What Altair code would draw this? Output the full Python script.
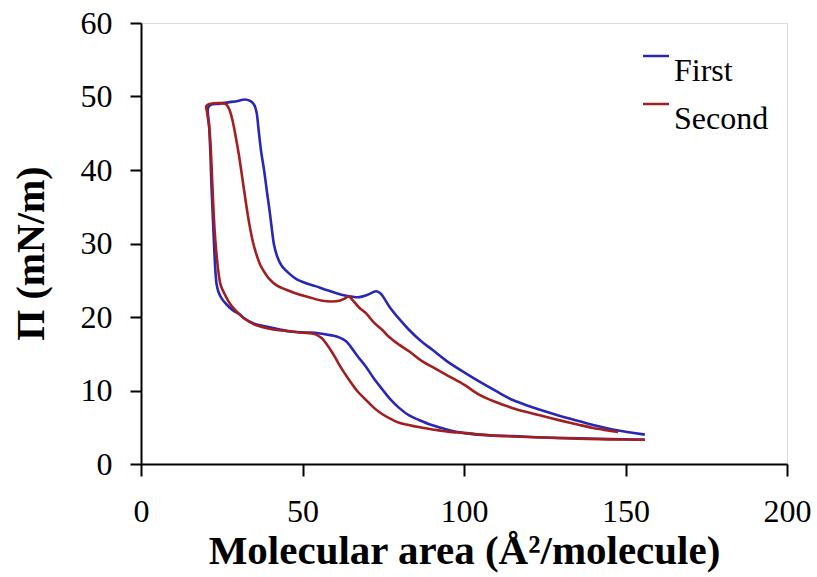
import altair as alt
import pandas as pd

# First cycle (blue): traced as one closed loop, starting at the lower-right end
first_x = [156, 145, 135, 125, 115, 108, 100, 95.5, 90, 86, 83, 80, 77, 74.8, 72, 69.7, 67, 65,
           63.5, 61.5, 59, 55, 51, 47, 43, 38.7, 35, 32, 30.4, 28.5, 26.5, 25, 24, 23.4, 23.0,
           22.6, 22.2, 21.8, 21.5, 21.1, 20.8, 21.8, 24, 27, 30, 32, 33.8, 35, 35.8, 36.4, 37.2,
           38.1, 39, 39.8, 40.5, 41.2, 42.2, 43.5, 45.9, 48, 51.1, 54, 58, 62.4, 65, 67.6, 70,
           72.8, 74.2, 75.5, 76.9, 80, 83.1, 86.5, 90.3, 95, 100.7, 104.8, 110, 115.1, 120,
           125.5, 130, 135.8, 140, 146, 150, 156]
first_y = [3.3, 3.4, 3.5, 3.6, 3.8, 3.9, 4.2, 4.6, 5.3, 6.0, 6.6, 7.6, 8.9, 10.1, 11.7, 13.2,
           14.7, 15.9, 16.7, 17.2, 17.5, 17.8, 17.9, 18.0, 18.3, 18.7, 19.1, 19.8, 20.4, 20.9,
           21.7, 22.5, 23.4, 24.5, 26.5, 30, 34, 38, 42, 46, 48.5, 48.9, 49.0, 49.2, 49.4, 49.6,
           49.4, 48.9, 47.8, 45.5, 42.5, 40, 37, 34.5, 32, 29.8, 28.2, 27, 25.9, 25.2, 24.6,
           24.2, 23.6, 23.0, 22.8, 22.7, 23.0, 23.5, 23.2, 22.4, 21.4, 19.7, 18.2, 16.8, 15.5,
           13.9, 12.3, 11.2, 9.9, 8.7, 7.9, 7.1, 6.5, 5.8, 5.3, 4.7, 4.4, 4.0]

# Second cycle (red)
second_x = [156, 145, 135, 125, 115, 108, 100.7, 95, 90.3, 85, 80, 77.9, 75, 72.5, 69.7, 67,
            64.5, 62.5, 61, 59.3, 57.5, 56, 54.2, 52, 49, 45, 41, 38.7, 35, 32, 30.4, 28.6, 27,
            25.8, 24.7, 24.0, 23.5, 23.0, 22.5, 22.1, 21.7, 21.2, 20.4, 20.2, 21.5, 24.7, 26.2,
            27.3, 28.3, 29.3, 30.4, 31.5, 32.6, 33.6, 34.6, 35.6, 37, 38.5, 39.7, 42, 45, 48,
            52, 56.2, 59, 61.4, 63, 64.3, 65.5, 67.5, 69.7, 72, 74.8, 77, 80, 83.1, 87, 91,
            95.5, 100, 104.8, 110, 115.1, 120, 125.5, 130, 135.8, 140, 144, 147.7]
second_y = [3.3, 3.35, 3.45, 3.6, 3.75, 3.9, 4.2, 4.4, 4.7, 5.1, 5.6, 6.0, 6.7, 7.5, 8.7, 9.9,
            11.4, 12.7, 13.8, 15.1, 16.3, 17.1, 17.6, 17.8, 17.9, 18.1, 18.3, 18.5, 19.0, 19.8,
            20.4, 21.2, 22.2, 23.2, 24.3, 26, 28, 30.5, 34, 38, 42, 45.5, 48.0, 48.7, 49.0,
            49.1, 49.0, 48.3, 46.8, 44.6, 41.8, 38.5, 35.2, 32.5, 30.3, 28.7, 27.0, 25.9, 25.2,
            24.3, 23.7, 23.2, 22.7, 22.2, 22.1, 22.2, 22.5, 22.8, 22.3, 21.3, 20.5, 19.3, 18.2,
            17.2, 16.2, 15.3, 14.0, 13.0, 11.9, 10.8, 9.4, 8.4, 7.6, 7.0, 6.4, 5.9, 5.3, 4.9,
            4.6, 4.35]

series_names = ["First", "Second"]
series_colors = ["#2828b4", "#a31f1f"]

rows = []
for name, xs, ys in [("First", first_x, first_y), ("Second", second_x, second_y)]:
    for i, (a, p) in enumerate(zip(xs, ys)):
        rows.append({"area": a, "pressure": p, "cycle": name, "i": i})
df = pd.DataFrame(rows)

serif = "Liberation Serif"

chart = alt.Chart(df).mark_line(strokeWidth=2.6, interpolate="catmull-rom").encode(
    x=alt.X("area:Q",
            scale=alt.Scale(domain=[0, 200], nice=False),
            axis=alt.Axis(values=[0, 50, 100, 150, 200], title="Molecular area (Å²/molecule)",
                          titleFont=serif, titleFontSize=41, titleFontWeight="bold",
                          titleColor="black", titleBaseline="alphabetic", titleY=99,
                          labelFont=serif, labelFontSize=32, labelColor="black",
                          tickSize=12, labelPadding=20, grid=False,
                          domainColor="black", domainWidth=2, tickColor="black", tickWidth=2,
                          labelFlush=False)),
    y=alt.Y("pressure:Q",
            scale=alt.Scale(domain=[0, 60], nice=False),
            axis=alt.Axis(values=[0, 10, 20, 30, 40, 50, 60], title="Π (mN/m)",
                          titleFont=serif, titleFontSize=40, titleFontWeight="bold",
                          titleColor="black", titleBaseline="alphabetic", titleX=-98, titleY=230,
                          titleAngle=270,
                          labelFont=serif, labelFontSize=32, labelColor="black",
                          tickSize=11, labelPadding=18, grid=False,
                          domainColor="black", domainWidth=2, tickColor="black", tickWidth=2,
                          labelFlush=False)),
    color=alt.Color("cycle:N",
                    scale=alt.Scale(domain=series_names, range=series_colors),
                    legend=alt.Legend(orient="none", legendX=499, legendY=17, title=None,
                                      symbolType="stroke", symbolSize=676, symbolStrokeWidth=2.5,
                                      labelFont=serif, labelFontSize=32, labelColor="black",
                                      labelBaseline="top", labelOffset=2, rowPadding=1,
                                      padding=0, symbolOffset=0)),
    order="i:Q",
).properties(
    width=646, height=441,
    autosize=alt.AutoSizeParams(type="none"),
    padding={"left": 141, "top": 23, "right": 30, "bottom": 113},
).configure_view(
    stroke="black", strokeWidth=2
).configure(background="white")

chart.save("out.html", embed_options={"renderer": "svg", "actions": False})
